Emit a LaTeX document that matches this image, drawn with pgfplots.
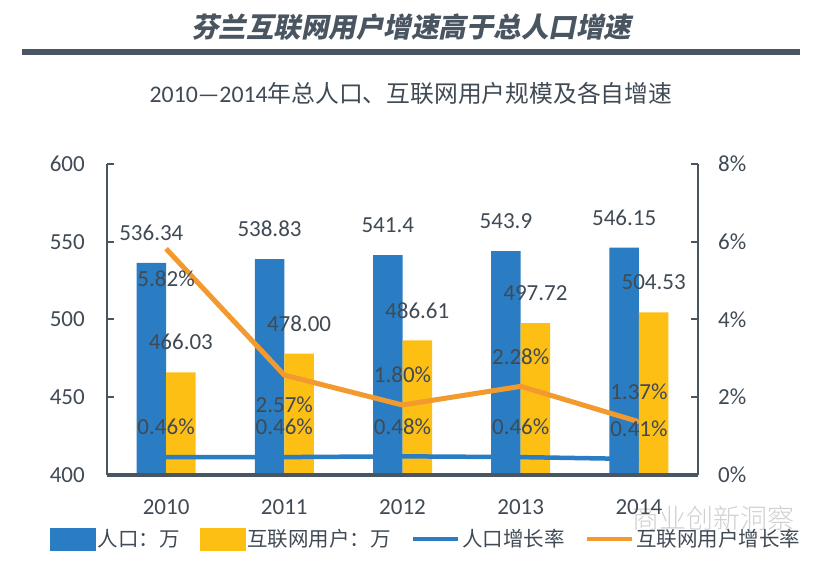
\documentclass[border=0pt]{standalone}
\usepackage{pgfplots}
\pgfplotsset{compat=1.18}
\usepackage{fontspec}
\setmainfont{Carlito}
\newfontfamily\cjk{Noto Sans CJK SC}
\newfontfamily\cjklight{Noto Sans CJK SC Light}
\newfontfamily\cjktitle{Noto Sans CJK SC}[FakeSlant=0.2]
\definecolor{popblue}{HTML}{2A7DC2}
\definecolor{netyellow}{HTML}{FDBF14}
\definecolor{netorange}{HTML}{F39A2E}
\definecolor{axisgray}{HTML}{4A5562}
\definecolor{txt}{HTML}{404A55}
\definecolor{wm}{HTML}{D0D0D0}
\pgfplotstableread{
x pop net
0 536.34 466.03
1 538.83 478.00
2 541.4 486.61
3 543.9 497.72
4 546.15 504.53
}\bars
\pgfplotstableread{
x pg ng
0 0.46 5.82
1 0.46 2.57
2 0.48 1.80
3 0.46 2.28
4 0.41 1.37
}\rates
\begin{document}
\begin{tikzpicture}[x=1pt,y=1pt]
\useasboundingbox (0,0) rectangle (822,561);
\node[font=\cjktitle\bfseries\fontsize{27.5}{30}\selectfont, text=axisgray] at (411,534) {芬兰互联网用户增速高于总人口增速};
\draw[axisgray, line width=6pt] (22,509) -- (800,509);
\node[font=\fontsize{23.8}{27}\selectfont, text=txt] at (411,468) {2010—2014{\cjk 年总人口、互联网用户规模及各自增速}};
\node[font=\cjklight\fontsize{27}{30}\selectfont, text=wm] at (713,43) {商业创新洞察};

\begin{axis}[
  at={(107pt,86pt)}, anchor=south west,
  scale only axis, width=591pt, height=311pt,
  xmin=-0.5, xmax=4.5, ymin=400, ymax=600,
  ytick={400,450,...,600},
  xtick={0,...,4}, xticklabels={2010,2011,2012,2013,2014},
  axis x line*=bottom, axis y line*=left,
  axis line style={-, axisgray},
  x axis line style={line width=4pt},
  y axis line style={line width=2.3pt},
  tick align=inside, major tick length=7pt,
  ytick style={axisgray, line width=2pt},
  xtick style={draw=none},
  /pgf/number format/assume math mode=true,
  ticklabel style={font=\fontsize{23}{26}\selectfont, text=txt},
  yticklabel style={anchor=east, inner sep=0pt, xshift=-22pt},
  xticklabel style={anchor=center, yshift=-32pt},
  axis on top,
]
\addplot[ybar, bar width=29.5pt, bar shift=-14.75pt, fill=popblue, draw=none,
  nodes near coords, point meta=explicit symbolic,
  every node near coord/.append style={anchor=center, xshift=-14.75pt, yshift=30pt, font=\fontsize{23}{26}\selectfont, text=txt}]
  table[x=x, y=pop, meta=pop] {\bars};
\addplot[ybar, bar width=29.5pt, bar shift=14.75pt, fill=netyellow, draw=none,
  nodes near coords, point meta=explicit symbolic,
  every node near coord/.append style={anchor=center, xshift=14.75pt, yshift=30pt, font=\fontsize{23}{26}\selectfont, text=txt}]
  table[x=x, y=net, meta=net] {\bars};
\end{axis}

\begin{axis}[
  at={(107pt,86pt)}, anchor=south west,
  scale only axis, width=591pt, height=311pt,
  xmin=-0.5, xmax=4.5, ymin=0, ymax=8,
  axis y line*=right, axis x line=none,
  axis line style={-, axisgray, line width=2.3pt},
  ytick={0,2,...,8},
  tick align=inside, major tick length=7pt,
  ytick style={axisgray, line width=2pt},
  /pgf/number format/assume math mode=true,
  yticklabel={\pgfmathprintnumber{\tick}\%},
  ticklabel style={font=\fontsize{23}{26}\selectfont, text=txt},
  yticklabel style={anchor=west, inner sep=0pt, xshift=20pt},
  legend columns=4,
  legend cell align=left,
  legend style={at={(-0.0964,-0.2058)}, anchor=west, draw=none, fill=none,
    font=\cjk\fontsize{20.5}{24}\selectfont, text=txt, inner sep=0pt,
    /tikz/every even column/.append style={column sep=18pt},
    nodes={inner sep=2pt}},
]
\addlegendimage{legend image code/.code={\fill[popblue] (0pt,-11pt) rectangle (45pt,11pt);}}
\addlegendentry{人口：万}
\addlegendimage{legend image code/.code={\fill[netyellow] (0pt,-11pt) rectangle (45pt,11pt);}}
\addlegendentry{互联网用户：万}
\addplot[popblue, line width=4.5pt, line join=round,
  legend image code/.code={\draw[popblue, line width=4.5pt] (0pt,0pt) -- (45pt,0pt);}]
  table[x=x, y=pg] {\rates};
\addlegendentry{人口增长率}
\addplot[netorange, line width=5pt, line join=round,
  legend image code/.code={\draw[netorange, line width=4.5pt] (0pt,0pt) -- (45pt,0pt);}]
  table[x=x, y=ng] {\rates};
\addlegendentry{互联网用户增长率}
% labels
\addplot[draw=none, forget plot, nodes near coords={\pgfplotspointmeta\%}, point meta=explicit symbolic,
  every node near coord/.append style={anchor=center, yshift=30pt, font=\fontsize{23}{26}\selectfont, text=txt}]
  table[x=x, y=pg, meta=pg] {\rates};
\addplot[draw=none, forget plot, nodes near coords={\pgfplotspointmeta\%}, point meta=explicit symbolic,
  every node near coord/.append style={anchor=center, yshift=-30pt, font=\fontsize{23}{26}\selectfont, text=txt}]
  table[x=x, y=ng, meta=ng] {
x ng
0 5.82
1 2.57
};
\addplot[draw=none, forget plot, nodes near coords={\pgfplotspointmeta\%}, point meta=explicit symbolic,
  every node near coord/.append style={anchor=center, yshift=30pt, font=\fontsize{23}{26}\selectfont, text=txt}]
  table[x=x, y=ng, meta=ng] {
x ng
2 1.80
3 2.28
4 1.37
};
\end{axis}
\end{tikzpicture}
\end{document}
